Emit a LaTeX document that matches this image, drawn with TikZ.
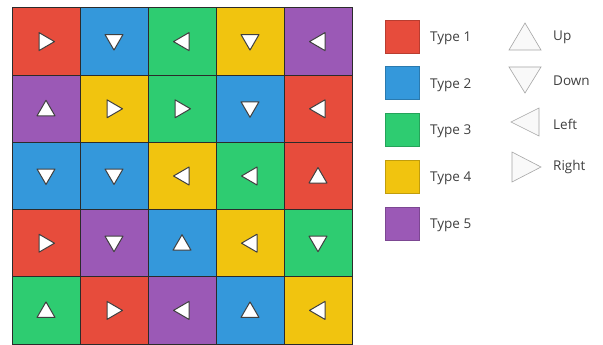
\documentclass[tikz,border=0pt]{standalone}
\usepackage{fontspec}
\setmainfont{Open Sans}
\usetikzlibrary{calc}
\definecolor{cred}{HTML}{E74C3C}
\definecolor{cblue}{HTML}{3498DB}
\definecolor{cgreen}{HTML}{2ECC71}
\definecolor{cyellow}{HTML}{F1C40F}
\definecolor{cpurple}{HTML}{9B59B6}
\definecolor{gridline}{HTML}{2B2B2B}
\definecolor{txt}{HTML}{404040}
\tikzset{
  cell/.style={draw=gridline, line width=1pt, minimum width=68pt, minimum height=67.2pt, inner sep=0pt, outer sep=0pt},
  tri/.style={fill=white, draw=black!75, line width=1pt, line join=round},
  legsq/.style={minimum width=34pt, minimum height=33pt, inner sep=0pt, line width=0.6pt},
  legtri/.style={fill=gray!5, draw=gray!70, line width=0.6pt},
  lab/.style={anchor=west, inner sep=0pt, font=\fontsize{13.5}{15}\selectfont, text=txt}
}
\newcommand\tup[1]{\draw[tri, shift={(#1)}] (-9,7) -- (9,7) -- (0,-8.5) -- cycle;}
\newcommand\tdown[1]{\draw[tri, shift={(#1)}] (-9,-7) -- (9,-7) -- (0,8.5) -- cycle;}
\newcommand\tleft[1]{\draw[tri, shift={(#1)}] (7,-9) -- (7,9) -- (-8.5,0) -- cycle;}
\newcommand\tright[1]{\draw[tri, shift={(#1)}] (-7,-9) -- (-7,9) -- (8.5,0) -- cycle;}
\begin{document}
\begin{tikzpicture}[x=1pt, y=-1pt]
\useasboundingbox (0,0) rectangle (603,345);
\fill[white] (0,0) rectangle (603,345);
% grid cells
\foreach \r/\cols in {1/{cred,cblue,cgreen,cyellow,cpurple},
                      2/{cpurple,cyellow,cgreen,cblue,cred},
                      3/{cblue,cblue,cyellow,cgreen,cred},
                      4/{cred,cpurple,cblue,cyellow,cgreen},
                      5/{cgreen,cred,cpurple,cblue,cyellow}}{
  \foreach \col [count=\c] in \cols {
    \node[cell, fill=\col] (c\r\c) at ({12+68*(\c-0.5)}, {8+67.2*(\r-0.5)}) {};
  }
}
% arrows
\tright{c11} \tdown{c12} \tleft{c13} \tdown{c14} \tleft{c15}
\tup{c21} \tright{c22} \tright{c23} \tdown{c24} \tleft{c25}
\tdown{c31} \tdown{c32} \tleft{c33} \tleft{c34} \tup{c35}
\tright{c41} \tdown{c42} \tup{c43} \tleft{c44} \tdown{c45}
\tup{c51} \tright{c52} \tleft{c53} \tup{c54} \tleft{c55}
% legend: types
\foreach \i/\col in {1/cred,2/cblue,3/cgreen,4/cyellow,5/cpurple}{
  \node[legsq, fill=\col, draw=\col!80!black] (s\i) at (402, {36.5+46.8*(\i-1)}) {};
  \node[lab] (t\i) at (430, {38+46.8*(\i-1)}) {Type \i};
}
% legend: directions
\draw[legtri] (509,50) -- (541,50) -- (525,23) -- cycle;
\draw[legtri] (509,67) -- (541,67) -- (525,93) -- cycle;
\draw[legtri] (539,108) -- (539,136) -- (511,122) -- cycle;
\draw[legtri] (512,152) -- (512,182) -- (541,167) -- cycle;
\node[lab] (lu) at (553,37) {Up};
\node[lab] (ld) at (553,81) {Down};
\node[lab] (ll) at (553,124) {Left};
\node[lab] (lr) at (553,167) {Right};
\end{tikzpicture}
\end{document}
